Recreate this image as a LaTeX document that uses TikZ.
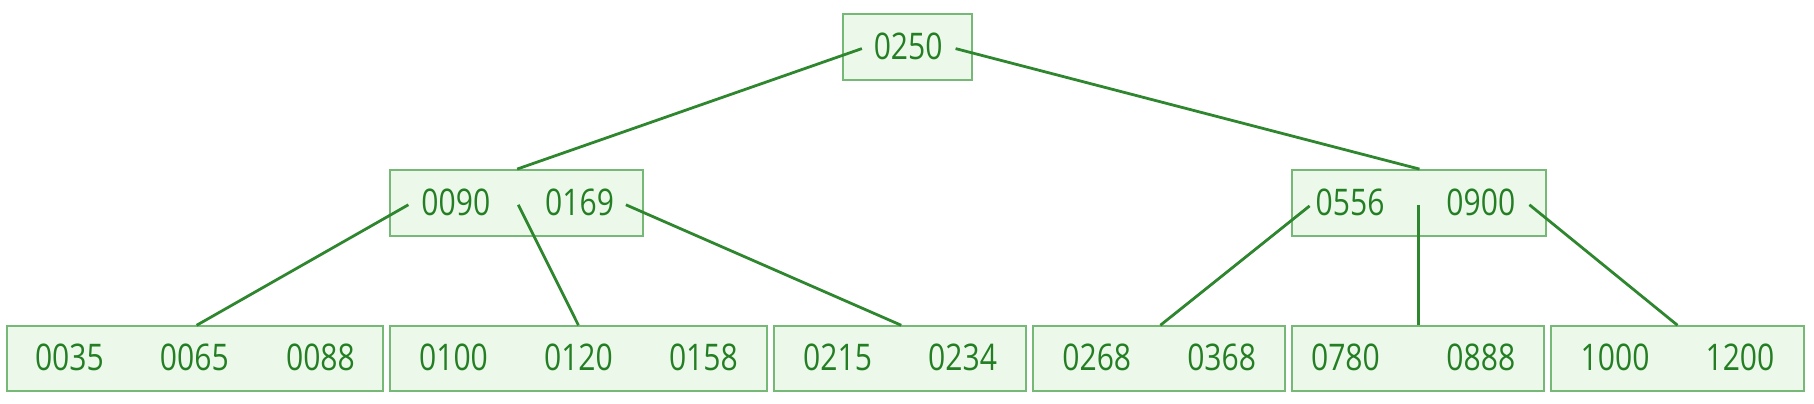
\documentclass[tikz,border=0pt]{standalone}
\usepackage{graphicx}
\usepackage{fontspec}
\setmainfont{Open Sans}
\definecolor{boxfill}{RGB}{236,249,234}
\definecolor{boxline}{RGB}{118,184,118}
\definecolor{txt}{RGB}{36,126,36}
\definecolor{edgecol}{RGB}{46,134,46}
\newcommand{\keytext}[1]{\scalebox{1}[1.22]{#1}}
\begin{document}
\begin{tikzpicture}[x=1pt,y=-1pt,
  box/.style={draw=boxline, fill=boxfill, line width=1.7pt, inner sep=0pt, rectangle},
  midbox/.style={box, minimum width=219pt, minimum height=57pt},
  leafbox/.style={box, minimum height=56pt},
  key/.style={text=txt, font=\fontsize{26}{26}\selectfont, inner sep=0pt},
  link/.style={draw=edgecol, line width=2.4pt}]
\useasboundingbox (0,0) rectangle (1568,349);
% root
\node[box, minimum width=111pt, minimum height=57pt] (root) at (784.5,40.5) {};
\node[key] (k0250) at (785,40) {\keytext{0250}};
% middle level
\node[midbox] (ml) at (446.5,175.5) {};
\node[key] (k0090) at (394,175) {\keytext{0090}};
\node[key] (k0169) at (501,175) {\keytext{0169}};
\node[midbox] (mr) at (1226.5,175.5) {};
\node[key] (k0556) at (1167,175) {\keytext{0556}};
\node[key] (k0900) at (1280,175) {\keytext{0900}};
% leaves
\node[leafbox, minimum width=325pt] (l1) at (168.5,310) {};
\node[key] (k0035) at (60,309) {\keytext{0035}};
\node[key] (k0065) at (168,309) {\keytext{0065}};
\node[key] (k0088) at (277,309) {\keytext{0088}};
\node[leafbox, minimum width=326pt] (l2) at (500,310) {};
\node[key] (k0100) at (392,309) {\keytext{0100}};
\node[key] (k0120) at (500,309) {\keytext{0120}};
\node[key] (k0158) at (608,309) {\keytext{0158}};
\node[leafbox, minimum width=218pt] (l3) at (778,310) {};
\node[key] (k0215) at (724,309) {\keytext{0215}};
\node[key] (k0234) at (832,309) {\keytext{0234}};
\node[leafbox, minimum width=218pt] (l4) at (1002,310) {};
\node[key] (k0268) at (948,309) {\keytext{0268}};
\node[key] (k0368) at (1056,309) {\keytext{0368}};
\node[leafbox, minimum width=218pt] (l5) at (1226,310) {};
\node[key] (k0780) at (1163,309) {\keytext{0780}};
\node[key] (k0888) at (1280,309) {\keytext{0888}};
\node[leafbox, minimum width=218pt] (l6) at (1450,310) {};
\node[key] (k1000) at (1396,309) {\keytext{1000}};
\node[key] (k1200) at (1504,309) {\keytext{1200}};
% pointer anchors
\coordinate (rootP0) at (745,42);
\coordinate (rootP1) at (826,42);
\coordinate (mlP0) at (353,177);
\coordinate (mlP1) at (448,177);
\coordinate (mlP2) at (541,177);
\coordinate (mrP0) at (1132,178);
\coordinate (mrP1) at (1226,177);
\coordinate (mrP2) at (1322,177);
% connectors
\draw[link] (rootP0) -- (ml.north -| 447,0);
\draw[link] (rootP1) -- (mr.north -| 1227,0);
\draw[link] (mlP0) -- (l1.north -| 170,0);
\draw[link] (mlP1) -- (l2.north -| 500,0);
\draw[link] (mlP2) -- (l3.north -| 779,0);
\draw[link] (mrP0) -- (l4.north -| 1003,0);
\draw[link] (mrP1) -- (l5.north -| 1226,0);
\draw[link] (mrP2) -- (l6.north -| 1450,0);
\end{tikzpicture}
\end{document}
